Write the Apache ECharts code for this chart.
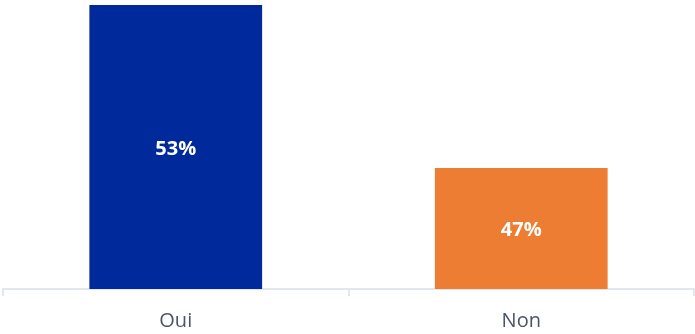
<!DOCTYPE html>
<html>
<head>
<meta charset="utf-8">
<style>
  html, body { margin: 0; padding: 0; background: #ffffff; }
  #chart { width: 695px; height: 334px; }
</style>
<script src="https://cdn.jsdelivr.net/npm/echarts@6/dist/echarts.min.js"></script>
</head>
<body>
<div id="chart"></div>
<script>
// Survey answers and their shares (%)
const categories = ['Oui', 'Non'];
const shares = [53, 47];
const barColors = ['#00299B', '#ED7D32'];

const chart = echarts.init(document.getElementById('chart'), null, { renderer: 'canvas' });

chart.setOption({
  animation: false,
  textStyle: { fontFamily: 'Open Sans' },
  grid: { left: 3, right: 1, top: 5, bottom: 45, containLabel: false },
  xAxis: {
    type: 'category',
    data: categories,
    axisLine: { show: true, lineStyle: { color: '#E2E7EE', width: 2 } },
    axisTick: { show: true, length: 7, lineStyle: { color: '#E2E7EE', width: 2 } },
    axisLabel: { color: '#4A5568', fontSize: 20, margin: 22, fontFamily: 'Open Sans' }
  },
  yAxis: {
    type: 'value',
    min: 42.55,
    max: 53,
    show: false,
    splitLine: { show: false }
  },
  series: [{
    type: 'bar',
    barWidth: '50%',
    data: shares.map((v, i) => ({ value: v, itemStyle: { color: barColors[i] } })),
    label: {
      show: true,
      position: 'inside',
      offset: [0, 2],
      color: '#ffffff',
      fontSize: 20,
      fontWeight: 'bold',
      fontFamily: 'Open Sans',
      formatter: p => p.value + '%'
    }
  }]
});
</script>
</body>
</html>
